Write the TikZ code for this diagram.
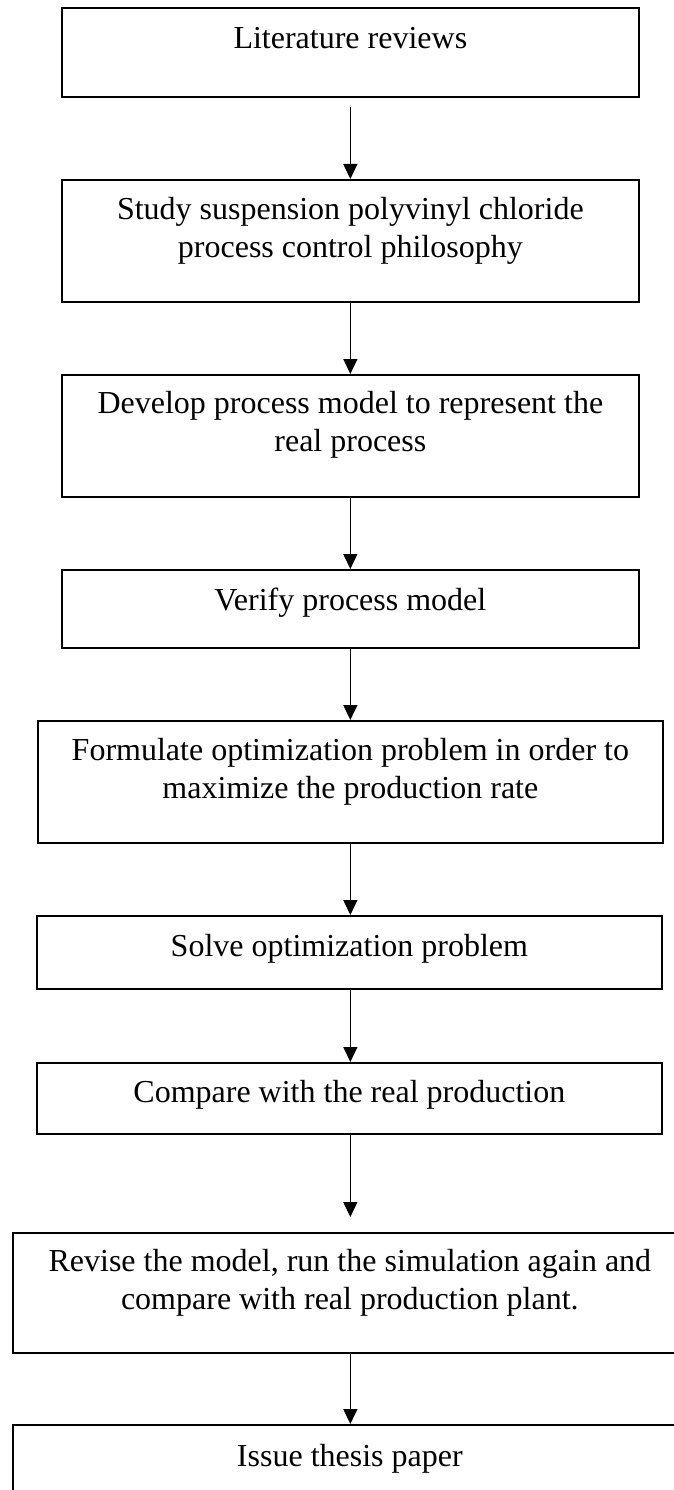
\documentclass[tikz,border=0pt]{standalone}
\usepackage{fontspec}
\setmainfont{Liberation Serif}
\usetikzlibrary{arrows.meta}
\begin{document}
\begin{tikzpicture}[x=1pt,y=-1pt,
  box/.style={draw, line width=1.7pt, rectangle, inner sep=0pt, anchor=north west},
  lbl/.style={anchor=base, align=center, font=\fontsize{32}{38}\selectfont, inner sep=0pt},
  arr/.style={-{Triangle[length=15pt,width=14pt]}, line width=1.3pt}]
\clip (0,0) rectangle (674,1490);
\fill[white] (0,0) rectangle (674,1490);
\node[box, minimum width=577pt, minimum height=89pt]  (b1) at (61,7) {};
\node[box, minimum width=577pt, minimum height=122pt] (b2) at (61,179) {};
\node[box, minimum width=577pt, minimum height=122pt] (b3) at (61,374) {};
\node[box, minimum width=577pt, minimum height=78pt]  (b4) at (61,569) {};
\node[box, minimum width=625pt, minimum height=122pt] (b5) at (37,720) {};
\node[box, minimum width=625pt, minimum height=73pt]  (b6) at (36,915) {};
\node[box, minimum width=625pt, minimum height=71pt]  (b7) at (36,1062) {};
\node[box, minimum width=674pt, minimum height=120pt] (b8) at (12,1232) {};
\node[box, minimum width=674pt, minimum height=90pt]  (b9) at (12,1424) {};

% the base anchor of a two-line label is the baseline of its last line
\node[lbl] (t1) at ([yshift=-42pt]b1.north) {Literature reviews};
\node[lbl] (t2) at ([yshift=-78pt]b2.north) {Study suspension polyvinyl chloride\\process control philosophy};
\node[lbl] (t3) at ([yshift=-77pt]b3.north) {Develop process model to represent the\\real process};
\node[lbl] (t4) at ([yshift=-41pt]b4.north) {Verify process model};
\node[lbl] (t5) at ([yshift=-78pt]b5.north) {Formulate optimization problem in order to\\maximize the production rate};
\node[lbl] (t6) at ([yshift=-41pt]b6.north) {Solve optimization problem};
\node[lbl] (t7) at ([yshift=-40pt]b7.north) {Compare with the real production};
\node[lbl] (t8) at ([yshift=-77pt]b8.north) {Revise the model, run the simulation again and\\compare with real production plant.};
\node[lbl] (t9) at ([yshift=-42pt]b9.north) {Issue thesis paper};

\draw[arr, shorten <=9pt] (b1.south) -- (b1.south |- b2.north);
\draw[arr] (b2.south) -- (b2.south |- b3.north);
\draw[arr] (b3.south) -- (b3.south |- b4.north);
\draw[arr] (b4.south) -- (b4.south |- b5.north);
\draw[arr] (b4.south |- b5.south) -- (b4.south |- b6.north);
\draw[arr] (b4.south |- b6.south) -- (b4.south |- b7.north);
\draw[arr, shorten >=15pt] (b4.south |- b7.south) -- (b4.south |- b8.north);
\draw[arr] (b4.south |- b8.south) -- (b4.south |- b9.north);
\end{tikzpicture}
\end{document}
